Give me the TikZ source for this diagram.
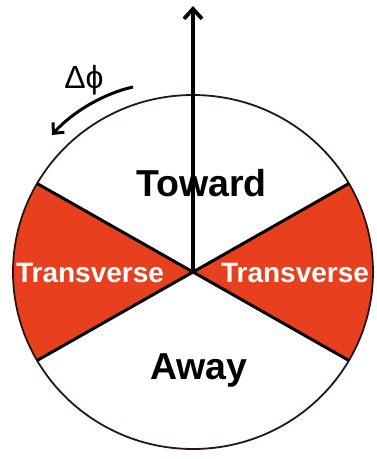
\documentclass[tikz,border=0pt]{standalone}
\usepackage{fontspec}
\setmainfont{Liberation Sans}
\usetikzlibrary{arrows.meta}
\definecolor{sectorred}{RGB}{232,64,30}
\definecolor{rimcol}{RGB}{40,20,20}
\begin{document}
\begin{tikzpicture}[x=1pt,y=-1pt,
  biglabel/.style={font=\bfseries\fontsize{37.5}{40}\selectfont, inner sep=0pt},
  translabel/.style={font=\bfseries\fontsize{28}{30}\selectfont, text=white, inner sep=0pt},
  divider/.style={line width=3pt, black},
  rim/.style={line width=1.8pt, draw=rimcol},
  arrowline/.style={line width=3.8pt, -{Straight Barb[length=10pt,width=18pt,line width=3.8pt]}}]
\useasboundingbox (0,0) rectangle (376,459);
\fill[white] (0,0) rectangle (376,459);
\coordinate (c) at (193,272);
\coordinate (ul) at (37.1,183.5);
\coordinate (ll) at (37.1,360.5);
\coordinate (ur) at (348.9,183.5);
\coordinate (lr) at (348.9,360.5);
\coordinate (top) at (193,6);
\coordinate (phs) at (133,87);
\coordinate (phe) at (52,135);
% red sectors
\fill[sectorred] (c) -- (ul) arc[start angle=210,end angle=150,x radius=180,y radius=177] -- cycle;
\fill[sectorred] (c) -- (lr) arc[start angle=30,end angle=-30,x radius=180,y radius=177] -- cycle;
% rim
\draw[rim] (c) ellipse [x radius=180,y radius=177];
% dividers
\draw[divider] (ul) -- (lr);
\draw[divider] (ll) -- (ur);
% vertical arrow
\draw[arrowline] (c) -- (top);
% delta phi arrow
\draw[line width=3pt, -{Straight Barb[length=8pt,width=15pt,line width=3pt]}] (phs) .. controls (105,93) and (72,112) .. (phe);
% labels
\node[font=\fontsize{32}{34}\selectfont, inner sep=0pt] (dphi) at (84,80) {Δϕ};
\node[biglabel] (toward) at (201.5,183) {Toward};
\node[biglabel] (away) at (199,370) {Away};
\node[translabel] (tl) at (90,273) {Transverse};
\node[translabel] (tr) at (295,273) {Transverse};
\end{tikzpicture}
\end{document}
